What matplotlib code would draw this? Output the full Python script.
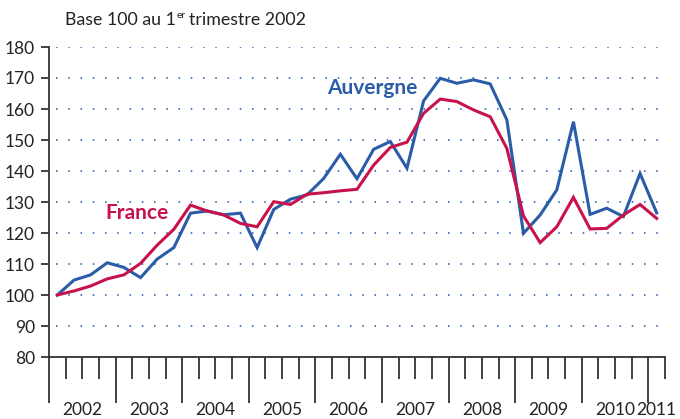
import matplotlib
matplotlib.use("Agg")
import matplotlib.pyplot as plt
import numpy as np

plt.rcParams['font.family'] = ['Lato', 'DejaVu Sans']

# Quarterly index, base 100 = 2002 Q1 (2002 Q1 .. 2011 Q1)
auvergne = [100, 104.8, 106.5, 110.4, 108.9, 105.6, 111.6, 115.3,
            126.4, 127.1, 125.9, 126.4, 115.3, 127.6, 130.9, 132.3,
            137.6, 145.4, 137.5, 147.0, 149.5, 140.9, 162.6, 169.9,
            168.3, 169.4, 168.1, 156.5, 119.9, 125.8, 133.9, 155.9,
            126.0, 128.0, 125.3, 139.2, 126.5]
france = [100, 101.3, 102.9, 105.2, 106.5, 110.2, 116.1, 121.2,
          129.0, 127.1, 125.8, 123.1, 122.0, 130.1, 129.2, 132.5,
          133.0, 133.6, 134.1, 141.9, 147.6, 149.3, 158.6, 163.2,
          162.4, 159.7, 157.5, 147.3, 125.5, 116.9, 122.0, 131.5,
          121.3, 121.5, 125.8, 129.2, 124.7]
years = ["2002", "2003", "2004", "2005", "2006", "2007", "2008", "2009", "2010", "2011"]

blue = "#2b5ca8"
red = "#c8124c"
dark = "#333333"

fig = plt.figure(figsize=(6.8, 4.19), dpi=100)
ax = fig.add_axes([49/680, 1 - 357/419, (665 - 49)/680, (357 - 47)/419])

x = np.arange(len(auvergne)) + 0.5
ax.plot(x, auvergne, color=blue, lw=2.2, solid_joinstyle='miter')
ax.plot(x, france, color=red, lw=2.2, solid_joinstyle='miter')

ax.set_xlim(0, len(auvergne))
ax.set_ylim(80, 180)

# dotted grid
for v in range(90, 181, 10):
    ax.axhline(v, xmin=0.012, xmax=0.995, color="#4a78c0", lw=1.4,
               ls=(0, (0.8, 5.5)), zorder=0)

for s in ["top", "right"]:
    ax.spines[s].set_visible(False)
for s in ["left", "bottom"]:
    ax.spines[s].set_color(dark)
    ax.spines[s].set_linewidth(1.3)

ax.set_yticks(range(80, 181, 10))
ax.tick_params(axis='y', length=6, width=1.3, color=dark, labelsize=12.5,
               pad=4, labelcolor="#222222")

# quarter ticks: long at year boundaries, short otherwise
ax.set_xticks(np.arange(0, len(auvergne), 4))
ax.set_xticks(np.arange(0, len(auvergne) + 1), minor=True)
ax.tick_params(axis='x', which='major', length=33, width=1.3, color=dark,
               labelbottom=False)
ax.tick_params(axis='x', which='minor', length=16, width=1.3, color=dark)

for k, yr in enumerate(years):
    xc = 4 * k + 2 if k < len(years) - 1 else len(auvergne) - 0.5
    ax.text(xc, -0.17, yr, transform=ax.get_xaxis_transform(),
            ha='center', va='center', fontsize=12.5, color="#222222")

ax.text(19.4, 166.8, "Auvergne", color=blue, fontsize=15,
        fontweight='bold', ha='center', va='center')
ax.text(5.3, 126.3, "France", color=red, fontsize=15,
        fontweight='bold', ha='center', va='center')

# title with superscript
fig.canvas.draw()
r = fig.canvas.get_renderer()
t1 = fig.text(65/680, 1 - 20/419, "Base 100 au 1", fontsize=12.8,
              va='center', ha='left', color="#222222")
bb = t1.get_window_extent(r)
t2 = fig.text(bb.x1 / fig.bbox.width + 0.001, 1 - 15/419, "er", fontsize=7.5,
              va='center', ha='left', color="#222222")
bb2 = t2.get_window_extent(r)
fig.text(bb2.x1 / fig.bbox.width + 0.004, 1 - 20/419, "trimestre 2002",
         fontsize=12.8, va='center', ha='left', color="#222222")

fig.savefig("out.png", dpi=100)
